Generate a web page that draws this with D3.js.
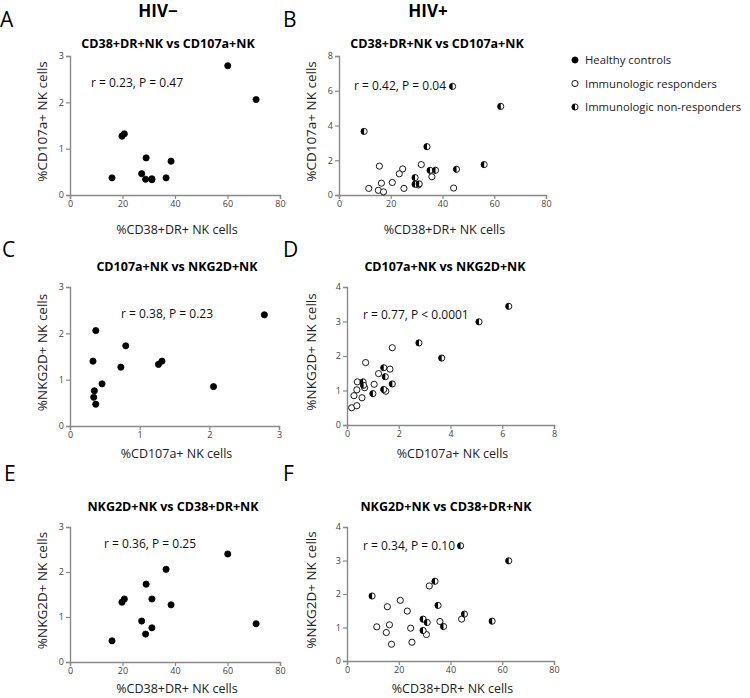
<!DOCTYPE html>
<html><head><meta charset="utf-8">
<script src="https://cdn.jsdelivr.net/npm/d3@7"></script>
<style>
html,body{margin:0;padding:0;background:#fff;}
svg text{font-family:"Open Sans","DejaVu Sans",sans-serif;}
</style></head>
<body>
<svg id="chart" width="750" height="698"></svg>
<script>
// ---------------- DATA ----------------
// HIV- healthy controls (one entry per subject)
const hcCD38   = [60.1, 70.9, 20.7, 19.8, 29.0, 38.5, 27.3, 36.6, 31.2, 16.0, 28.8, 31.2];
const hcCD107a = [2.79, 2.06, 1.32, 1.27, 0.80, 0.73, 0.46, 0.37, 0.33, 0.37, 0.34, 0.35];
const hcNKG2D  = [2.40, 0.85, 1.40, 1.33, 1.73, 1.27, 0.91, 2.06, 1.40, 0.47, 0.62, 0.76];
// HIV+ immunologic responders
const irCD38   = [15.6, 24.6, 31.8, 23.3, 35.9, 20.6, 16.4, 11.5, 15.2, 17.2, 25.1, 30.7, 44.3];
const irCD107a = [1.66, 1.50, 1.75, 1.22, 1.05, 0.72, 0.68, 0.38, 0.27, 0.18, 0.38, 0.58, 0.40];
const irNKG2D  = [1.62, 0.98, 2.24, 1.49, 1.18, 1.81, 1.08, 1.02, 0.85, 0.50, 0.56, 0.79, 1.25];
// HIV+ immunologic non-responders
const inrCD38   = [43.9, 62.5, 9.7, 34.0, 56.1, 45.4, 35.2, 37.3, 29.4, 29.4, 31.0];
const inrCD107a = [6.25, 5.10, 3.66, 2.78, 1.75, 1.48, 1.42, 1.42, 1.00, 0.62, 0.64];
const inrNKG2D  = [3.44, 2.99, 1.94, 2.38, 1.19, 1.40, 1.66, 1.03, 0.91, 1.25, 1.15];

// tick labels
const ticksPct80 = [0, 20, 40, 60, 80];
const ticks0to3  = [0, 1, 2, 3];
const ticks0to4  = [0, 1, 2, 3, 4];
const ticks0to8  = [0, 2, 4, 6, 8];

// texts
const columnHeaders = ["HIV\u2212", "HIV+"];
const panelLetters = ["A", "B", "C", "D", "E", "F"];
const panelTitles = ["CD38+DR+NK vs CD107a+NK", "CD38+DR+NK vs CD107a+NK",
                     "CD107a+NK vs NKG2D+NK", "CD107a+NK vs NKG2D+NK",
                     "NKG2D+NK vs CD38+DR+NK", "NKG2D+NK vs CD38+DR+NK"];
const statTexts = ["r = 0.23, P = 0.47", "r = 0.42, P = 0.04",
                   "r = 0.38, P = 0.23", "r = 0.77, P < 0.0001",
                   "r = 0.36, P = 0.25", "r = 0.34, P = 0.10"];
const labCD38 = "%CD38+DR+ NK cells", labCD107a = "%CD107a+ NK cells", labNKG2D = "%NKG2D+ NK cells";
const legendLabels = ["Healthy controls", "Immunologic responders", "Immunologic non-responders"];

// ---------------- BUILD ----------------
const hc  = hcCD38.map((v,i)=>({cd38:v, cd107a:hcCD107a[i], nkg2d:hcNKG2D[i], g:"hc"}));
const ir  = irCD38.map((v,i)=>({cd38:v, cd107a:irCD107a[i], nkg2d:irNKG2D[i], g:"ir"}));
const inr = inrCD38.map((v,i)=>({cd38:v, cd107a:inrCD107a[i], nkg2d:inrNKG2D[i], g:"inr"}));

const panels = [
 {k:0, xr:[70,280], yr:[195,56], xd:[0,80], yd:[0,3], xt:ticksPct80, yt:ticks0to3, xv:"cd38", yv:"cd107a", xl:labCD38, yl:labCD107a, data:hc,
  letter:[0,27], title:[168,48], stat:[91,87], xlY:234, ylX:47},
 {k:1, xr:[339,546], yr:[195,56], xd:[0,80], yd:[0,8], xt:ticksPct80, yt:ticks0to8, xv:"cd38", yv:"cd107a", xl:labCD38, yl:labCD107a, data:ir.concat(inr),
  letter:[283,27], title:[437,48], stat:[354,90], xlY:234, ylX:316},
 {k:2, xr:[70,279], yr:[426,287], xd:[0,3], yd:[0,3], xt:ticks0to3, yt:ticks0to3, xv:"cd107a", yv:"nkg2d", xl:labCD107a, yl:labNKG2D, data:hc,
  letter:[2,257], title:[177,271], stat:[121,318], xlY:458, ylX:47},
 {k:3, xr:[347,554], yr:[425,287], xd:[0,8], yd:[0,4], xt:ticks0to8, yt:ticks0to4, xv:"cd107a", yv:"nkg2d", xl:labCD107a, yl:labNKG2D, data:ir.concat(inr),
  letter:[283,257], title:[445,271], stat:[363,319], xlY:458, ylX:316},
 {k:4, xr:[70,280], yr:[662,527], xd:[0,80], yd:[0,3], xt:ticksPct80, yt:ticks0to3, xv:"cd38", yv:"nkg2d", xl:labCD38, yl:labNKG2D, data:hc,
  letter:[4,481], title:[173,511], stat:[104,548], xlY:693, ylX:47},
 {k:5, xr:[347,554], yr:[661,527], xd:[0,80], yd:[0,4], xt:ticksPct80, yt:ticks0to4, xv:"cd38", yv:"nkg2d", xl:labCD38, yl:labNKG2D, data:ir.concat(inr),
  letter:[283,481], title:[446,511], stat:[363,550], xlY:693, ylX:316}
];

const svg = d3.select("#chart");
const R = 3.1;

function marker(sel, g){
  if(g==="hc"){
    sel.append("circle").attr("r",R).attr("fill","#000").attr("stroke","#000").attr("stroke-width",0.8);
  } else if(g==="ir"){
    sel.append("circle").attr("r",R).attr("fill","#fff").attr("stroke","#000").attr("stroke-width",0.9);
  } else {
    sel.append("circle").attr("r",R).attr("fill","#fff").attr("stroke","#000").attr("stroke-width",0.9);
    sel.append("path").attr("d",`M0,${-R}A${R},${R} 0 0 0 0,${R}Z`).attr("fill","#000");
  }
}

// column headers
svg.append("text").attr("x",158).attr("y",17).attr("text-anchor","middle")
  .attr("font-size",17).attr("font-weight","bold").text(columnHeaders[0]);
svg.append("text").attr("x",428).attr("y",17).attr("text-anchor","middle")
  .attr("font-size",17).attr("font-weight","bold").text(columnHeaders[1]);

panels.forEach(p=>{
  const x = d3.scaleLinear().domain(p.xd).range(p.xr);
  const y = d3.scaleLinear().domain(p.yd).range(p.yr);
  const g = svg.append("g");

  g.append("text").attr("x",p.letter[0]).attr("y",p.letter[1]).attr("font-size",21).text(panelLetters[p.k]);
  g.append("text").attr("x",p.title[0]).attr("y",p.title[1]).attr("text-anchor","middle")
    .attr("font-size",12.5).attr("font-weight","bold").text(panelTitles[p.k]);

  const xa = g.append("g").attr("transform",`translate(0,${p.yr[0]})`)
    .call(d3.axisBottom(x).tickValues(p.xt).tickSize(4).tickPadding(1.5).tickFormat(d3.format("d")));
  const ya = g.append("g").attr("transform",`translate(${p.xr[0]},0)`)
    .call(d3.axisLeft(y).tickValues(p.yt).tickSize(4).tickPadding(2).tickFormat(d3.format("d")));
  [xa,ya].forEach(a=>{
    a.select(".domain").attr("stroke","#8a8a8a").attr("stroke-width",1.4);
    a.selectAll(".tick line").attr("stroke","#8a8a8a").attr("stroke-width",1.2);
    a.selectAll(".tick text").attr("font-size",9).attr("fill","#444")
      .style("font-family","'Open Sans',sans-serif");
  });

  g.append("text").attr("x",(p.xr[0]+p.xr[1])/2+2).attr("y",p.xlY).attr("text-anchor","middle")
    .attr("font-size",12.5).attr("fill","#222").text(p.xl);
  g.append("text").attr("transform",`translate(${p.ylX},${(p.yr[0]+p.yr[1])/2 - 4}) rotate(-90)`)
    .attr("text-anchor","middle").attr("font-size",13.5).attr("fill","#222").text(p.yl);

  g.append("text").attr("x",p.stat[0]).attr("y",p.stat[1]).attr("font-size",12).attr("fill","#111").text(statTexts[p.k]);

  const pts = g.append("g").selectAll("g.pt").data(p.data).enter().append("g").attr("class","pt")
    .attr("transform",d=>`translate(${x(d[p.xv])},${y(d[p.yv])})`);
  pts.each(function(d){ marker(d3.select(this), d.g); });
});

// legend
const legendGroups = ["hc","ir","inr"];
const lg = svg.append("g");
legendGroups.forEach((gname,i)=>{
  const row = lg.append("g").attr("transform",`translate(575,${60 + i*23.5})`);
  marker(row, gname);
  row.append("text").attr("x",10).attr("y",4).attr("font-size",11.3).attr("fill","#222").text(legendLabels[i]);
});
</script>
</body></html>
